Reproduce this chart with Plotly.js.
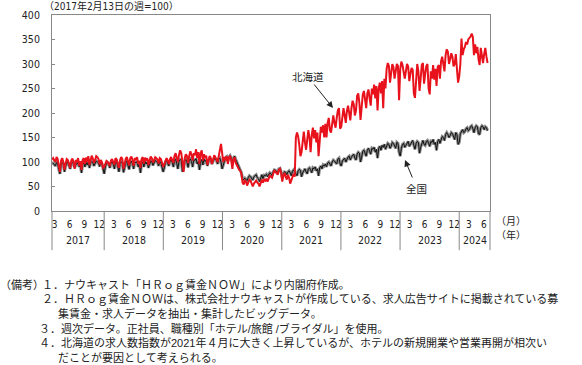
<!DOCTYPE html>
<html><head><meta charset="utf-8">
<script src="https://cdn.plot.ly/plotly-3.0.1.min.js"></script>
<style>html,body{margin:0;padding:0;background:#fff}#chart{width:582px;height:365px}</style>
</head><body><div id="chart"></div>
<script>
// Weekly index (week of 2017-02-13 = 100), weeks starting Monday
const startDate = '2017-02-13';
// 全国
const zenkoku2017 = [100,98,96, 92,99,97,85, 76,95,98,96, 80,92,98,99,94, 86,97,99,96, 88,97,95,99,90, 93,78,96,98, 90,99,94,100, 88,98,101,99,92, 97,102,100,98, 91,99,97,82];
const zenkoku2018 = [76,90,97,99,96, 88,98,100,96, 86,99,101,92, 80,97,100,98,79, 88,99,101,95, 85,99,102,96, 86,100,98,101,90, 96,78,97,100, 90,101,96,100, 88,98,102,101,93, 98,103,101,99, 92,101,99,90,80];
const zenkoku2019 = [88,100,103,99, 92,102,104,100, 90,103,105,97, 86,102,105,103,80, 86,102,105,100, 89,104,106,101, 90,105,103,107,96, 101,84,100,105, 94,106,101,104,92, 103,107,104,96, 101,107,106,103, 96,106,108,100,86];
const zenkoku2020 = [94,106,109,111, 102,110,113,108, 98,108,112,105,100, 94,88,83,78, 66,64,67,64, 62,68,72,70,66, 63,70,73,74, 68,66,60,70,74, 66,73,72,75, 70,76,78,76, 72,80,84,83,80, 78,86,87,80];
const zenkoku2021 = [68,76,80,79, 74,80,82,78, 72,81,84,80,76, 72,82,85,83, 70,78,84,86,80, 76,86,88,84, 78,88,86,90, 82,86,72,88,92, 86,94,92,96, 90,98,100,97, 92,100,104,102,98, 96,106,108,96];
const zenkoku2022 = [92,102,106,108,100, 106,110,112,104, 110,114,116,108, 104,116,120,118, 100,110,122,124,116, 112,124,128,122, 116,128,126,130, 120,126,108,128,132, 124,134,130,136, 126,134,138,136,128, 132,140,138,134, 128,140,138,120];
const zenkoku2023 = [112,128,136,138,130, 134,140,142,132, 136,142,144,134, 126,138,142,140, 118,130,140,144,136, 134,142,144,138, 132,142,140,146,136, 140,124,142,146, 138,148,152,150, 144,156,160,156,150, 154,160,158,152, 146,160,156,136];
const zenkoku2024 = [140,158,164,166,160, 162,168,170,164, 166,172,174,168, 160,170,174,172,158, 156,170,174,172, 166,172,170,164];
// 北海道
const hokkaido2017 = [105,108,103, 100,110,106,92, 80,103,108,100, 84,97,106,104,98, 88,103,107,100, 86,104,100,108,92, 102,84,104,108, 96,109,100,112, 94,108,113,107,98, 104,112,110,106, 95,104,100,88];
const hokkaido2018 = [90,98,102,100,97, 92,103,106,100, 94,108,105,96, 88,104,110,106,86, 95,107,110,102, 93,108,111,104, 92,108,104,110,96, 103,88,106,110, 97,109,103,108, 94,106,111,108,99, 104,110,108,105, 97,108,106,98,90];
const hokkaido2019 = [95,104,108,103, 96,106,110,104, 98,112,118,108, 100,115,124,118,92, 80,108,116,112, 98,113,122,115, 103,118,114,126,108, 120,96,118,124, 103,116,108,113,94, 106,112,108,96, 104,114,110,106, 100,112,126,137,118];
const hokkaido2020 = [100,110,104,112, 96,108,113,104, 86,104,110,98,92, 88,84,82,76, 58,54,62,60, 52,58,64,62,55, 50,56,60,62, 58,56,50,58,64, 58,64,62,66, 60,68,72,70, 68,76,82,80,78, 74,84,86,78];
const hokkaido2021 = [60,72,78,70, 64,74,68,56, 62,72,76,70,150, 160,152,135,112, 120,150,162,140,125, 145,165,150,120, 155,170,148,165, 140,160,112,150,172, 160,175,150,178, 150,180,190,165, 160,185,195,180,170, 190,205,210,168];
const hokkaido2022 = [172,200,210,195,180, 205,215,200,185, 210,225,218,195, 205,235,240,220, 186,215,238,245,222, 210,240,248,230, 215,250,238,258, 230,255,205,250,262, 240,265,210,270, 250,290,302,296,262, 280,300,294,270, 285,300,296,226];
const hokkaido2023 = [290,305,298,282,270, 285,300,295,265, 280,292,288,240, 231,280,300,285, 245,270,298,302,260, 280,296,300,250, 238,285,270,298,268, 290,255,294,298, 270,306,315,300, 285,318,330,325,300, 310,322,315,295, 300,320,290,262];
const hokkaido2024 = [275,300,352,318,330, 335,345,340,350, 352,356,362,355, 318,340,322,335,310, 298,333,318,302, 320,333,315,302];

const years = [2017,2018,2019,2020,2021,2022,2023,2024];
const monthTicks = ['3','6','9','12'];
const labelNational = '全国';
const labelHokkaido = '北海道';

const zenkoku = [].concat(zenkoku2017,zenkoku2018,zenkoku2019,zenkoku2020,zenkoku2021,zenkoku2022,zenkoku2023,zenkoku2024);
const hokkaido = [].concat(hokkaido2017,hokkaido2018,hokkaido2019,hokkaido2020,hokkaido2021,hokkaido2022,hokkaido2023,hokkaido2024);

const DAY = 86400000;
const t0 = Date.parse(startDate + 'T00:00:00Z');
function iso(ms){ return new Date(ms).toISOString().slice(0,10); }
const weeks = zenkoku.map((_, i) => iso(t0 + i*7*DAY));

const xStart = '2017-02-13', xEnd = '2024-07-09';
const xs = Date.parse(xStart+'T00:00:00Z'), xe = Date.parse(xEnd+'T00:00:00Z');

// month tick values
const tickvals = [], ticktext = [];
years.forEach(y => {
  [3,6,9,12].forEach((m, k) => {
    const d = Date.UTC(y, m-1, 1);
    if (d >= xs - 20*DAY && d <= xe) { tickvals.push(iso(d)); ticktext.push(monthTicks[k]); }
  });
});

const sepBottom = -0.2;
const shapes = [];
const annotations = [];
years.forEach(y => {
  const a = Math.max(Date.UTC(y,0,1), xs), b = Math.min(Date.UTC(y+1,0,1), xe);
  if (y > 2017) shapes.push({type:'line', xref:'x', yref:'paper', x0: iso(Date.UTC(y,0,1)), x1: iso(Date.UTC(y,0,1)), y0: 0, y1: sepBottom, line:{color:'#888', width:1}});
  annotations.push({xref:'x', yref:'paper', x: iso((a+b)/2), y: -0.148, text: String(y), showarrow:false, xanchor:'center', yanchor:'middle', font:{size:10.5, color:'#222', family:'Liberation Sans Narrow, DejaVu Sans Condensed, sans-serif'}});
});
shapes.push({type:'line', xref:'paper', yref:'paper', x0:0, x1:0, y0:0, y1:sepBottom, line:{color:'#888', width:1}});
shapes.push({type:'line', xref:'paper', yref:'paper', x0:1, x1:1, y0:0, y1:sepBottom, line:{color:'#888', width:1}});

// pixel -> paper helpers (plot area x 52..490, y 15..211)
const px = x => (x - 52) / 438;
const py = y => (211 - y) / 196;
const narrow = 'Liberation Sans Narrow, DejaVu Sans Condensed, Noto Sans CJK JP, sans-serif';
const cjk = 'Noto Sans CJK JP, sans-serif';
const noteFont = 'Liberation Sans, Noto Sans CJK JP, sans-serif';

annotations.push({xref:'paper', yref:'paper', x: px(42), y: py(6), text:'（2017年2月13日の週=100）', showarrow:false, xanchor:'left', yanchor:'middle', font:{size:10, color:'#222', family:narrow}});
annotations.push({xref:'paper', yref:'paper', x: px(496), y: py(221.5), text:'（月）', showarrow:false, xanchor:'left', yanchor:'middle', borderpad:0, borderwidth:0, font:{size:10, color:'#222', family:noteFont}});
annotations.push({xref:'paper', yref:'paper', x: px(496), y: py(234.5), text:'（年）', showarrow:false, xanchor:'left', yanchor:'middle', borderpad:0, borderwidth:0, font:{size:10, color:'#222', family:noteFont}});

// series labels with arrows
annotations.push({xref:'paper', yref:'paper', x: px(333), y: py(108), ax: -20, ay: -25, axref:'pixel', ayref:'pixel', text:'', showarrow:true, arrowhead:2, arrowsize:1.3, arrowwidth:1, arrowcolor:'#222'});
annotations.push({xref:'paper', yref:'paper', x: px(308), y: py(76), text: labelHokkaido, showarrow:false, xanchor:'center', yanchor:'middle', font:{size:10.5, color:'#222', family:cjk}});
annotations.push({xref:'paper', yref:'paper', x: px(405), y: py(160), ax: 8, ay: 19, axref:'pixel', ayref:'pixel', text:'', showarrow:true, arrowhead:2, arrowsize:1.3, arrowwidth:1, arrowcolor:'#222'});
annotations.push({xref:'paper', yref:'paper', x: px(416), y: py(188), text: labelNational, showarrow:false, xanchor:'center', yanchor:'middle', font:{size:10.5, color:'#222', family:cjk}});

// notes
const indent = '　\u2002\u2009';
const noteLines = [
  [42, '１．ナウキャスト「ＨＲｏｇ賃金ＮＯＷ」により内閣府作成。'],
  [42, '２．ＨＲｏｇ賃金ＮＯＷは、株式会社ナウキャストが作成している、求人広告サイトに掲載されている募'],
  [58, '集賃金・求人データを抽出・集計したビッグデータ。'],
  [39, '３．週次データ。正社員、職種別「ホテル/旅館 /ブライダル」を使用。'],
  [39, '４．北海道の求人数指数が2021年４月に大きく上昇しているが、ホテルの新規開業や営業再開が相次い'],
  [58, 'だことが要因として考えられる。']
];
const noteY0 = 285, noteStep = 14.4;
annotations.push({xref:'paper', yref:'paper', x: px(0), y: py(noteY0), text:'（備考）', showarrow:false, xanchor:'left', yanchor:'middle', borderpad:0, borderwidth:0, font:{size:11, color:'#222', family:noteFont}});
noteLines.forEach((n, i) => annotations.push({xref:'paper', yref:'paper', x: px(n[0]), y: py(noteY0 + i*noteStep), text: n[1], showarrow:false, xanchor:'left', yanchor:'middle', borderpad:0, borderwidth:0, font:{size:11, color:'#222', family:noteFont}}));

const traces = [
  {x: weeks, y: zenkoku, type:'scatter', mode:'lines', line:{color:'#8a8a8a', width:3}, hoverinfo:'skip', showlegend:false},
  {x: weeks, y: zenkoku, type:'scatter', mode:'lines', line:{color:'#111', width:1}, name: labelNational, showlegend:false},
  {x: weeks, y: hokkaido, type:'scatter', mode:'lines', line:{color:'#e8121c', width:2}, name: labelHokkaido, showlegend:false}
];

const layout = {
  width:582, height:365,
  margin:{l:52, r:92, t:15, b:154},
  paper_bgcolor:'#fff', plot_bgcolor:'#fff',
  showlegend:false,
  xaxis:{type:'date', range:[xStart, xEnd], tickmode:'array', tickvals:tickvals, ticktext:ticktext, ticks:'', showgrid:false, zeroline:false,
         showline:true, linecolor:'#888', linewidth:1, mirror:true, tickfont:{size:10, color:'#222', family:narrow}, ticklabelstandoff:4},
  yaxis:{range:[0,400], tickvals:[0,50,100,150,200,250,300,350,400], ticks:'inside', ticklen:3, tickcolor:'#888', showgrid:false, zeroline:false,
         showline:true, linecolor:'#888', linewidth:1, mirror:true, tickfont:{size:10.5, color:'#222', family:narrow}, ticklabelstandoff:9},
  shapes: shapes,
  annotations: annotations
};
Plotly.newPlot('chart', traces, layout, {staticPlot:true, displayModeBar:false});
</script></body></html>
